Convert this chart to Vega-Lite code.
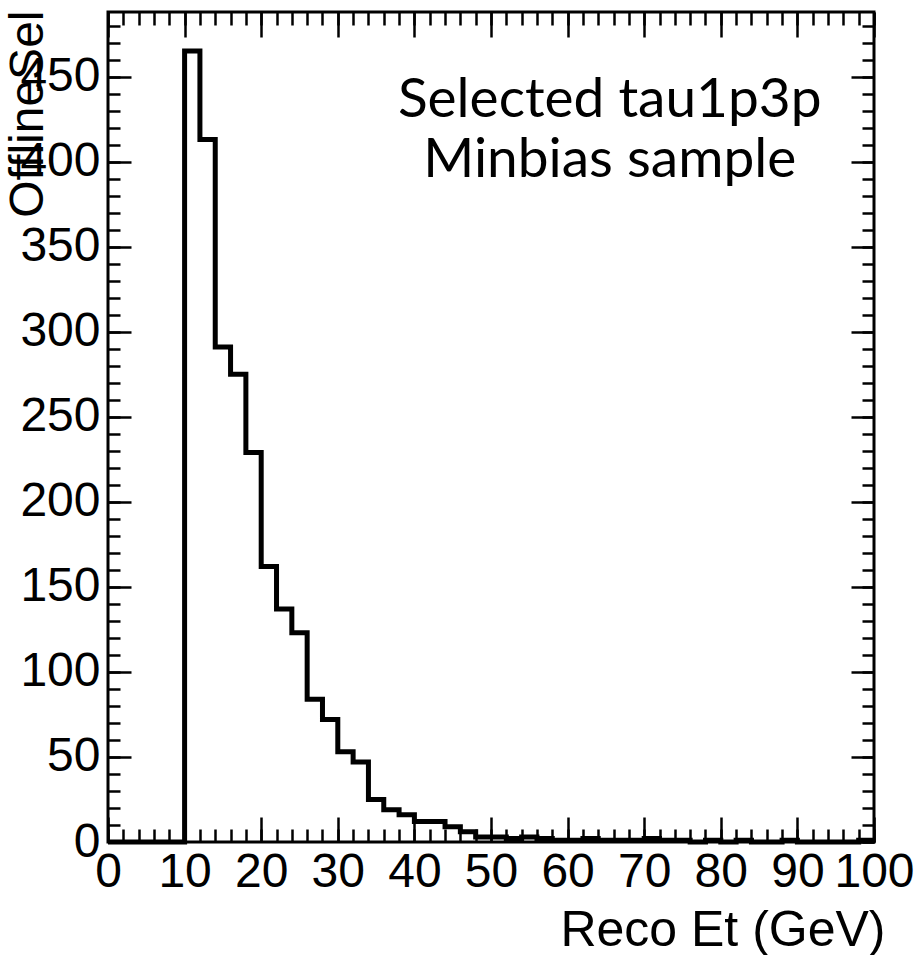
{
  "$schema": "https://vega.github.io/schema/vega-lite/v6.json",
  "width": 766,
  "height": 830,
  "autosize": "none",
  "padding": {"left": 108, "top": 12, "right": 43, "bottom": 113},
  "background": "white",
  "config": {
    "view": {"stroke": "black", "strokeWidth": 3},
    "axis": {
      "domain": false,
      "grid": false,
      "labelFont": "Liberation Sans",
      "titleFont": "Liberation Sans",
      "labelColor": "black",
      "titleColor": "black",
      "tickColor": "black",
      "tickWidth": 2.5,
      "titleFontWeight": "normal"
    }
  },
  "datasets": {
    "hist": [
      {"et": 0, "n": 0}, {"et": 2, "n": 0}, {"et": 4, "n": 0}, {"et": 6, "n": 0}, {"et": 8, "n": 0},
      {"et": 10, "n": 465}, {"et": 12, "n": 413}, {"et": 14, "n": 291}, {"et": 16, "n": 275}, {"et": 18, "n": 229},
      {"et": 20, "n": 162}, {"et": 22, "n": 137}, {"et": 24, "n": 123}, {"et": 26, "n": 84}, {"et": 28, "n": 72},
      {"et": 30, "n": 53}, {"et": 32, "n": 47}, {"et": 34, "n": 25}, {"et": 36, "n": 19}, {"et": 38, "n": 16},
      {"et": 40, "n": 12}, {"et": 42, "n": 12}, {"et": 44, "n": 9}, {"et": 46, "n": 6}, {"et": 48, "n": 3},
      {"et": 50, "n": 3}, {"et": 52, "n": 2}, {"et": 54, "n": 3}, {"et": 56, "n": 2}, {"et": 58, "n": 1},
      {"et": 60, "n": 1}, {"et": 62, "n": 2}, {"et": 64, "n": 1}, {"et": 66, "n": 1}, {"et": 68, "n": 1},
      {"et": 70, "n": 2}, {"et": 72, "n": 1}, {"et": 74, "n": 1}, {"et": 76, "n": 0}, {"et": 78, "n": 1},
      {"et": 80, "n": 0}, {"et": 82, "n": 1}, {"et": 84, "n": 0}, {"et": 86, "n": 0}, {"et": 88, "n": 1},
      {"et": 90, "n": 0}, {"et": 92, "n": 0}, {"et": 94, "n": 0}, {"et": 96, "n": 0}, {"et": 98, "n": 1},
      {"et": 100, "n": 1}
    ],
    "notes": [
      {"label": "Selected tau1p3p\nMinbias sample", "et": 65.5, "n": 426.5}
    ]
  },
  "layer": [
    {
      "data": {"name": "hist"},
      "mark": {"type": "line", "interpolate": "step-after", "color": "black", "strokeWidth": 5, "strokeJoin": "miter", "strokeCap": "butt"},
      "encoding": {
        "x": {
          "field": "et", "type": "quantitative",
          "scale": {"domain": [0, 100], "nice": false, "zero": false},
          "axis": {
            "orient": "bottom", "values": [0, 10, 20, 30, 40, 50, 60, 70, 80, 90, 100],
            "ticks": false, "labelFontSize": 48, "labelPadding": 6,
            "labelOverlap": false, "labelFlush": false, "labelBound": false,
            "title": "Reco Et (GeV)", "titleFontSize": 50, "titleAnchor": "end",
            "titleAlign": "right", "titleBaseline": "alphabetic", "titleX": 777, "titleY": 103
          }
        },
        "y": {
          "field": "n", "type": "quantitative",
          "scale": {"domain": [0, 488], "nice": false, "zero": false},
          "axis": {
            "orient": "left", "values": [0, 50, 100, 150, 200, 250, 300, 350, 400, 450],
            "ticks": false, "labelFontSize": 48, "labelPadding": 8, "labelOverlap": false,
            "title": "OfflineSel", "titleFontSize": 48, "titleAngle": 270,
            "titleAlign": "right", "titleBaseline": "alphabetic", "titleX": -66, "titleY": -2
          }
        }
      }
    },
    {
      "data": {"name": "notes"},
      "mark": {"type": "text", "font": "Lato", "fontSize": 55, "lineHeight": 60, "lineBreak": "\n", "align": "center", "baseline": "alphabetic", "color": "black"},
      "encoding": {
        "x": {
          "field": "et", "type": "quantitative",
          "scale": {"domain": [0, 100], "nice": false, "zero": false},
          "axis": {"orient": "bottom", "values": [0, 10, 20, 30, 40, 50, 60, 70, 80, 90, 100], "labels": false, "tickSize": -25, "title": null}
        },
        "y": {
          "field": "n", "type": "quantitative",
          "scale": {"domain": [0, 488], "nice": false, "zero": false},
          "axis": {"orient": "left", "values": [0, 50, 100, 150, 200, 250, 300, 350, 400, 450], "labels": false, "tickSize": -23, "title": null}
        },
        "text": {"field": "label", "type": "nominal"}
      }
    },
    {
      "data": {"name": "hist"},
      "mark": {"type": "line", "strokeOpacity": 0},
      "encoding": {
        "x": {
          "field": "et", "type": "quantitative",
          "scale": {"domain": [0, 100], "nice": false, "zero": false},
          "axis": {"orient": "bottom", "values": [0, 2, 4, 6, 8, 10, 12, 14, 16, 18, 20, 22, 24, 26, 28, 30, 32, 34, 36, 38, 40, 42, 44, 46, 48, 50, 52, 54, 56, 58, 60, 62, 64, 66, 68, 70, 72, 74, 76, 78, 80, 82, 84, 86, 88, 90, 92, 94, 96, 98, 100], "labels": false, "tickSize": -13, "title": null}
        },
        "y": {
          "field": "n", "type": "quantitative",
          "scale": {"domain": [0, 488], "nice": false, "zero": false},
          "axis": {"orient": "left", "values": [0, 10, 20, 30, 40, 50, 60, 70, 80, 90, 100, 110, 120, 130, 140, 150, 160, 170, 180, 190, 200, 210, 220, 230, 240, 250, 260, 270, 280, 290, 300, 310, 320, 330, 340, 350, 360, 370, 380, 390, 400, 410, 420, 430, 440, 450, 460, 470, 480], "labels": false, "tickSize": -12, "title": null}
        }
      }
    },
    {
      "data": {"name": "hist"},
      "mark": {"type": "line", "strokeOpacity": 0},
      "encoding": {
        "x": {
          "field": "et", "type": "quantitative",
          "scale": {"domain": [0, 100], "nice": false, "zero": false},
          "axis": {"orient": "top", "values": [0, 10, 20, 30, 40, 50, 60, 70, 80, 90, 100], "labels": false, "tickSize": -25, "title": null}
        },
        "y": {
          "field": "n", "type": "quantitative",
          "scale": {"domain": [0, 488], "nice": false, "zero": false},
          "axis": {"orient": "right", "values": [0, 50, 100, 150, 200, 250, 300, 350, 400, 450], "labels": false, "tickSize": -23, "title": null}
        }
      }
    },
    {
      "data": {"name": "hist"},
      "mark": {"type": "line", "strokeOpacity": 0},
      "encoding": {
        "x": {
          "field": "et", "type": "quantitative",
          "scale": {"domain": [0, 100], "nice": false, "zero": false},
          "axis": {"orient": "top", "values": [0, 2, 4, 6, 8, 10, 12, 14, 16, 18, 20, 22, 24, 26, 28, 30, 32, 34, 36, 38, 40, 42, 44, 46, 48, 50, 52, 54, 56, 58, 60, 62, 64, 66, 68, 70, 72, 74, 76, 78, 80, 82, 84, 86, 88, 90, 92, 94, 96, 98, 100], "labels": false, "tickSize": -13, "title": null}
        },
        "y": {
          "field": "n", "type": "quantitative",
          "scale": {"domain": [0, 488], "nice": false, "zero": false},
          "axis": {"orient": "right", "values": [0, 10, 20, 30, 40, 50, 60, 70, 80, 90, 100, 110, 120, 130, 140, 150, 160, 170, 180, 190, 200, 210, 220, 230, 240, 250, 260, 270, 280, 290, 300, 310, 320, 330, 340, 350, 360, 370, 380, 390, 400, 410, 420, 430, 440, 450, 460, 470, 480], "labels": false, "tickSize": -12, "title": null}
        }
      }
    }
  ],
  "resolve": {"axis": {"x": "independent", "y": "independent"}}
}
